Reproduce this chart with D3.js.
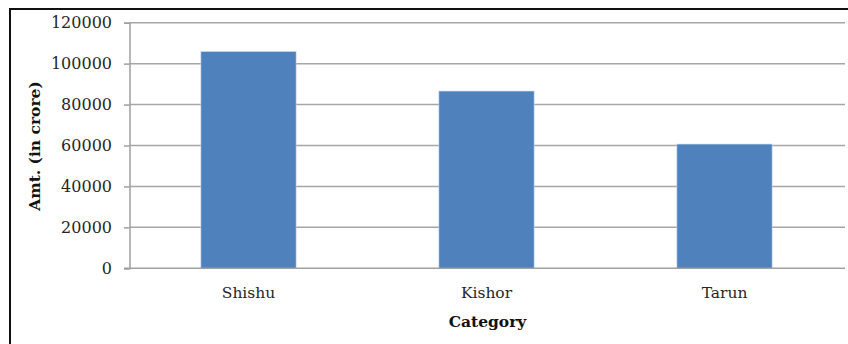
<!DOCTYPE html>
<html>
<head>
<meta charset="utf-8">
<script src="https://cdn.jsdelivr.net/npm/d3@7"></script>
<style>
  html, body { margin: 0; padding: 0; background: #fff; }
  svg { display: block; }
</style>
</head>
<body>
<svg id="chart" width="848" height="344"></svg>
<script>
// Loan amount disbursed per category (in crore)
const categories = ["Shishu", "Kishor", "Tarun"];
const amounts = [105900, 86600, 60700];
const yTicks = [0, 20000, 40000, 60000, 80000, 100000, 120000];

const svg = d3.select("#chart");
const W = 848, H = 344;
const plot = { left: 129.5, right: 843.5, top: 22.7, bottom: 268.3 };
const fontFam = "'DejaVu Serif', serif";

// Outer frame (top and left edges visible)
svg.append("line").attr("x1", 9).attr("x2", W).attr("y1", 9).attr("y2", 9)
  .attr("stroke", "#111").attr("stroke-width", 2);
svg.append("line").attr("x1", 10).attr("x2", 10).attr("y1", 8).attr("y2", H)
  .attr("stroke", "#111").attr("stroke-width", 2);

const x = d3.scaleBand()
  .domain(categories)
  .range([plot.left, plot.right])
  .paddingInner(0.6)
  .paddingOuter(0.3);

const y = d3.scaleLinear()
  .domain([0, 120000])
  .range([plot.bottom, plot.top]);

// Horizontal gridlines
svg.append("g")
  .selectAll("line")
  .data(yTicks.filter(d => d > 0))
  .join("line")
  .attr("x1", plot.left)
  .attr("x2", 845)
  .attr("y1", d => y(d))
  .attr("y2", d => y(d))
  .attr("stroke", "#a6a6a6")
  .attr("stroke-width", 1.5);

// Bars
svg.append("g")
  .selectAll("rect")
  .data(categories.map((c, i) => ({ c, v: amounts[i] })))
  .join("rect")
  .attr("x", d => x(d.c))
  .attr("width", x.bandwidth())
  .attr("y", d => y(d.v))
  .attr("height", d => y(0) - y(d.v))
  .attr("fill", "#4f81bd")
  .attr("stroke", "#c5d5ea")
  .attr("stroke-width", 0.6);

// Y axis
const yAxis = svg.append("g")
  .attr("transform", `translate(${plot.left},0)`)
  .call(d3.axisLeft(y).tickValues(yTicks).tickSize(5.5).tickPadding(12).tickFormat(d3.format("d")));
yAxis.select(".domain").attr("stroke", "#a0a0a0").attr("stroke-width", 1.5);
yAxis.selectAll(".tick line").attr("stroke", "#a0a0a0").attr("stroke-width", 1.5);
yAxis.selectAll(".tick text")
  .attr("font-family", fontFam)
  .attr("font-size", 16)
  .attr("fill", "#262626");

// X axis
const xAxis = svg.append("g")
  .attr("transform", `translate(0,${plot.bottom})`)
  .call(d3.axisBottom(x).tickSize(0).tickPadding(19));
xAxis.select(".domain").remove();
svg.append("line")
  .attr("x1", plot.left - 5.5).attr("x2", 845)
  .attr("y1", plot.bottom).attr("y2", plot.bottom)
  .attr("stroke", "#a0a0a0").attr("stroke-width", 1.5);
xAxis.selectAll(".tick text")
  .attr("font-family", fontFam)
  .attr("font-size", 15.5)
  .attr("fill", "#262626");

// Axis titles
svg.append("text")
  .attr("x", (plot.left + plot.right) / 2 + 1)
  .attr("y", 327)
  .attr("text-anchor", "middle")
  .attr("font-family", fontFam)
  .attr("font-weight", "bold")
  .attr("font-size", 15.5)
  .attr("fill", "#111")
  .text("Category");

svg.append("text")
  .attr("transform", "translate(40,146) rotate(-90)")
  .attr("text-anchor", "middle")
  .attr("font-family", fontFam)
  .attr("font-weight", "bold")
  .attr("font-size", 15.5)
  .attr("fill", "#111")
  .text("Amt. (in crore)");
</script>
</body>
</html>
